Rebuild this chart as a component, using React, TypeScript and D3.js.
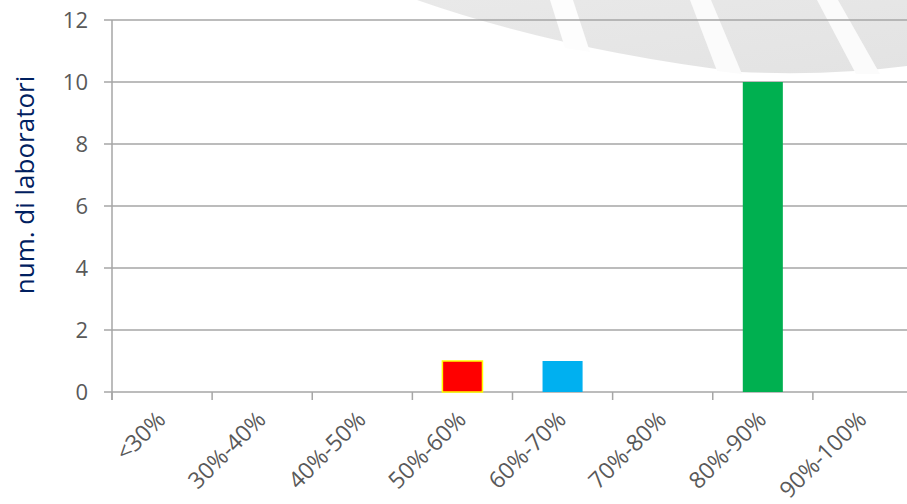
import React from "react";
import * as d3 from "d3";

const categories = ["<30%", "30%-40%", "40%-50%", "50%-60%", "60%-70%", "70%-80%", "80%-90%", "90%-100%"];
const values = [0, 0, 0, 1, 1, 0, 10, 0];
const yTicks = [0, 2, 4, 6, 8, 10, 12];
const yTitle = "num. di laboratori";

const W = 907;
const H = 504;
const M = { left: 112, right: -6, top: 20, bottom: 112 };

export default function App() {
  const x0 = M.left;
  const x1 = W - M.right;
  const yBase = H - M.bottom;
  const slots = d3.scaleBand<string>().domain(categories).range([x0, x1]).padding(0);
  const bars = d3.scaleBand<string>().domain(categories).range([x0, x1]).paddingInner(0.6).paddingOuter(0.3);
  const y = d3.scaleLinear().domain([0, 12]).range([yBase, M.top]);
  const colorOf = (i: number) => (i === 3 ? "#FF0000" : i === 4 ? "#00B0F0" : "#00B050");
  const grid = "#a6a6a6";
  const font = "'Open Sans', sans-serif";

  return (
    <svg width={W} height={H} style={{ position: "absolute", left: 0, top: 0, background: "#fff" }}>
      <defs>
        <linearGradient id="wm" x1="0" y1="0" x2="1" y2="1">
          <stop offset="0" stopColor="#e9e9e9" />
          <stop offset="1" stopColor="#e3e3e3" />
        </linearGradient>
      </defs>
      {/* decorative watermark */}
      <path d="M417,0 Q560,50 740,72 Q830,76 907,66 L907,0 Z" fill="url(#wm)" />
      <path d="M550,0 L573,0 L590,52 L565,48 Z" fill="#fdfdfd" />
      <path d="M690,0 L711,0 L742,74 L717,71 Z" fill="#fbfbfb" />
      <path d="M817,0 L838,0 L880,74 L856,74 Z" fill="#fbfbfb" />

      {yTicks.map((t) => (
        <g key={t}>
          <line x1={x0 - 8} x2={x1} y1={y(t)} y2={y(t)} stroke={grid} strokeWidth={1.5} />
          <text x={x0 - 24} y={y(t)} dy="0.36em" textAnchor="end" fontFamily={font} fontSize={22} fill="#595959">
            {t}
          </text>
        </g>
      ))}
      <line x1={x0} x2={x0} y1={M.top} y2={yBase + 8} stroke={grid} strokeWidth={1.5} />
      {categories.map((c) => (
        <line key={"t" + c} x1={slots(c)!} x2={slots(c)!} y1={yBase} y2={yBase + 8} stroke={grid} strokeWidth={1.5} />
      ))}

      {categories.map((c, i) =>
        values[i] > 0 ? (
          <rect
            key={"b" + c}
            x={bars(c)!}
            y={y(values[i])}
            width={bars.bandwidth()}
            height={yBase - y(values[i])}
            fill={colorOf(i)}
            stroke={i === 3 ? "#FFFF00" : "none"}
            strokeWidth={i === 3 ? 1.5 : 0}
          />
        ) : null
      )}

      {categories.map((c) => {
        const cx = slots(c)! + slots.bandwidth() / 2 + 5;
        const cy = yBase + 29;
        return (
          <text
            key={"l" + c}
            transform={`translate(${cx},${cy}) rotate(-45)`}
            textAnchor="end"
            fontFamily={font}
            fontSize={23}
            fill="#595959"
          >
            {c}
          </text>
        );
      })}

      <text
        transform={`translate(34,${(77 + 293) / 2}) rotate(-90)`}
        textAnchor="middle"
        fontFamily={font}
        fontSize={26}
        fill="#002060"
      >
        {yTitle}
      </text>
    </svg>
  );
}
